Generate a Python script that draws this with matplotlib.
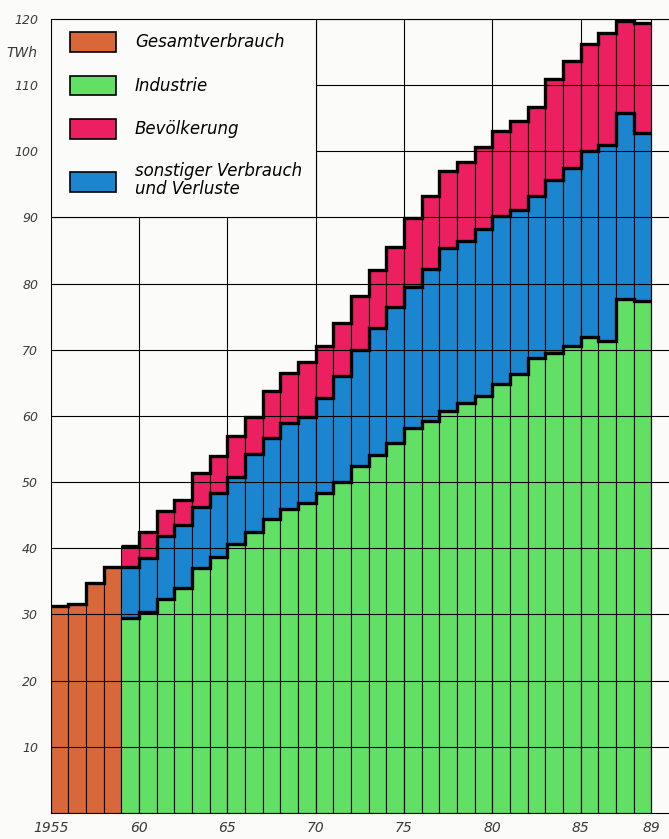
import numpy as np
import matplotlib
matplotlib.use("Agg")
import matplotlib.pyplot as plt
from matplotlib.patches import Patch, Rectangle

# Stromverbrauch in TWh
years_total = [1955, 1956, 1957, 1958]
gesamt = [31.3, 31.6, 34.7, 37.2]

years = list(range(1959, 1989))
industrie = [29.4, 30.4, 32.4, 34.0, 37.0, 38.7, 40.6, 42.5, 44.4, 45.9,
             46.8, 48.3, 50.0, 52.4, 54.1, 55.9, 58.2, 59.3, 60.8, 62.0,
             63.0, 64.8, 66.3, 68.8, 69.5, 70.5, 72.0, 71.4, 77.7, 77.4]
sonstiger = [7.8, 8.1, 9.4, 9.5, 9.3, 9.6, 10.2, 11.7, 12.3, 13.0,
             13.1, 14.4, 16.0, 17.6, 19.2, 20.6, 21.3, 22.9, 24.6, 24.4,
             25.3, 25.4, 24.8, 24.4, 26.2, 27.0, 28.0, 29.6, 28.1, 25.4]
bevoelkerung = [3.1, 4.0, 3.8, 3.8, 5.0, 5.6, 6.1, 5.7, 7.0, 7.6,
                8.3, 7.8, 8.1, 8.2, 8.7, 9.1, 10.4, 11.0, 11.6, 12.0,
                12.4, 12.8, 13.5, 13.5, 15.2, 16.2, 16.2, 16.9, 13.9, 16.6]

xticks = [1955, 1960, 1965, 1970, 1975, 1980, 1985, 1989]
xticklabels = ["1955", "60", "65", "70", "75", "80", "85", "89"]
yticks = list(range(10, 130, 10))

c_orange = "#d8683a"
c_green = "#62e065"
c_blue = "#1b86cf"
c_pink = "#ec2060"

plt.rcParams["font.family"] = ["DejaVu Sans"]
plt.rcParams["font.style"] = "italic"

fig = plt.figure(figsize=(6.69, 8.39), dpi=100, facecolor="#fbfbf9")
ax = fig.add_axes([0.0758, 0.0312, 0.9242, 0.9461])
ax.set_facecolor("#fbfbf9")

ind = np.array(industrie)
son = np.array(sonstiger)
bev = np.array(bevoelkerung)

bar_kw = dict(width=1.0, align="edge", edgecolor="black", linewidth=0.8, zorder=1)
ax.bar(years_total, gesamt, color=c_orange, **bar_kw)
ax.bar(years, ind, color=c_green, **bar_kw)
ax.bar(years, son, bottom=ind, color=c_blue, **bar_kw)
ax.bar(years, bev, bottom=ind + son, color=c_pink, **bar_kw)

# thick step outlines on top of each layer
edges_total = list(years_total) + [years_total[-1] + 1]
edges = list(years) + [years[-1] + 1]
step_kw = dict(color="black", linewidth=2.4, baseline=None, zorder=4)
ax.stairs(gesamt, edges_total, **step_kw)
ax.stairs(ind, edges, **step_kw)
ax.stairs(ind + son, edges, **step_kw)
ax.stairs(ind + son + bev, edges, **step_kw)

ax.set_xlim(1955, 1990)
ax.set_ylim(0, 120)
ax.set_xticks(xticks)
ax.set_xticklabels(xticklabels)
ax.set_yticks(yticks)
ax.tick_params(axis="both", length=0, labelcolor="#3a3a3a", labelsize=10)
ax.tick_params(axis="y", pad=9, labelsize=9)
ax.tick_params(axis="x", pad=6)

ax.grid(True, color="black", linewidth=0.8, zorder=2.5)
ax.set_axisbelow(False)

ax.spines["right"].set_visible(False)
ax.spines["left"].set_color("#888888")
ax.spines["left"].set_linewidth(0.8)
ax.spines["top"].set_linewidth(0.8)
ax.spines["bottom"].set_linewidth(0.8)

# legend area (white box over the grid)
ax.add_patch(Rectangle((1955, 90), 15, 30, facecolor="#fbfbf9", edgecolor="black",
                       linewidth=0.8, zorder=3))
handles = [Patch(facecolor=c_orange, edgecolor="black", linewidth=1.2),
           Patch(facecolor=c_green, edgecolor="black", linewidth=1.2),
           Patch(facecolor=c_pink, edgecolor="black", linewidth=1.2),
           Patch(facecolor=c_blue, edgecolor="black", linewidth=1.2)]
labels = ["Gesamtverbrauch", "Industrie", "Bevölkerung", "sonstiger Verbrauch\nund Verluste"]
leg = ax.legend(handles, labels, loc="upper left", bbox_to_anchor=(0.0312, 0.9836),
                frameon=False, fontsize=12, handlelength=2.75, handleheight=1.45,
                handletextpad=1.15, labelspacing=1.42, borderpad=0, borderaxespad=0)
for t in leg.get_texts():
    t.set_linespacing(1.0)
leg.set_zorder(5)

fig.text(0.01, 1 - 53 / 839, "TWh", fontsize=10, color="#3a3a3a", va="center", ha="left")

fig.savefig("out.png", dpi=100, facecolor=fig.get_facecolor())
